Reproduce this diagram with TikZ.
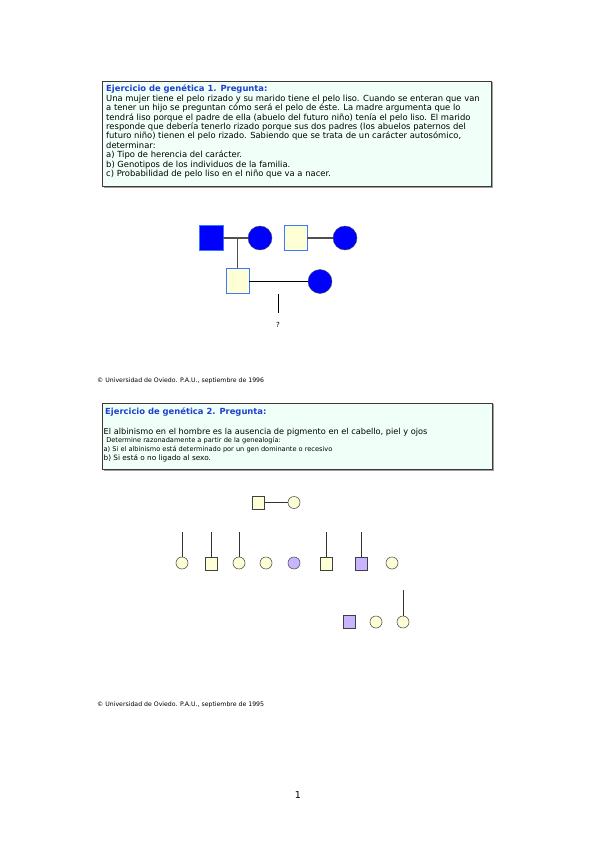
\documentclass[tikz,border=0pt]{standalone}
\usepackage{fontspec}
\setmainfont{DejaVu Sans}
\definecolor{boxfill}{HTML}{F0FFF8}
\definecolor{boxborder}{HTML}{3A3A3A}
\definecolor{boxshadow}{HTML}{A0A0A0}
\definecolor{titleblue}{HTML}{1E40D0}
\definecolor{affblue}{HTML}{0000FF}
\definecolor{lightyel}{HTML}{FFFFD6}
\definecolor{sqborder}{HTML}{3C78FF}
\definecolor{albino}{HTML}{C8B4FF}
\definecolor{pedline}{HTML}{505050}
\begin{document}
\begin{tikzpicture}[x=1pt,y=-1pt,
  txt/.style={anchor=base west,inner sep=0pt,font=\fontsize{8.4}{9.4}\selectfont},
  txtb/.style={anchor=base west,inner sep=0pt,font=\fontsize{8.2}{9.4}\selectfont},
  smalltxt/.style={anchor=base west,inner sep=0pt,font=\fontsize{6.6}{8}\selectfont},
  midtxt/.style={anchor=base west,inner sep=0pt,font=\fontsize{7.3}{8}\selectfont},
  ttl/.style={anchor=base west,inner sep=0pt,text=titleblue,font=\fontsize{8.4}{9.4}\selectfont\bfseries},
  foot/.style={anchor=base west,inner sep=0pt,font=\fontsize{6.2}{7}\selectfont},
  qbox/.style={draw=boxborder,line width=0.9pt,fill=boxfill},
  bsq/.style={rectangle,draw=sqborder,line width=0.7pt,fill=affblue,minimum width=24pt,minimum height=25pt,inner sep=0pt},
  ysq/.style={rectangle,draw=sqborder,line width=0.7pt,fill=lightyel,minimum width=23pt,minimum height=25pt,inner sep=0pt},
  bci/.style={circle,draw=black!70,line width=0.4pt,fill=affblue,minimum size=24pt,inner sep=0pt},
  pl/.style={draw=pedline,line width=1.2pt},
  sq/.style={rectangle,draw=black!75,line width=0.7pt,fill=lightyel,minimum width=11.5pt,minimum height=13pt,inner sep=0pt},
  psq/.style={sq,fill=albino},
  ci/.style={circle,draw=black!65,line width=0.6pt,fill=lightyel,minimum size=12pt,inner sep=0pt},
  pci/.style={ci,fill=albino},
  ql/.style={draw=black!80,line width=0.8pt}
]
\useasboundingbox[fill=white] (0,0) rectangle (599,848);

% ---------- Box 1 ----------
\draw[boxshadow,line width=1pt] (103.5,187.5) -- (492.5,187.5) -- (492.5,82);
\draw[qbox] (102,81) rectangle (491,186);
\node[ttl] (t1) at (106,92) {Ejercicio de genética 1. Pregunta:};
\node[txt] (t1a) at (106,101.4) {Una mujer tiene el pelo rizado y su marido tiene el pelo liso. Cuando se enteran que van};
\node[txt] (t1b) at (106,110.8) {a tener un hijo se preguntan cómo será el pelo de éste. La madre argumenta que lo};
\node[txt] (t1c) at (106,120.2) {tendrá liso porque el padre de ella (abuelo del futuro niño) tenía el pelo liso. El marido};
\node[txt] (t1d) at (106,129.6) {responde que debería tenerlo rizado porque sus dos padres (los abuelos paternos del};
\node[txt] (t1e) at (106,139.0) {futuro niño) tienen el pelo rizado. Sabiendo que se trata de un carácter autosómico,};
\node[txt] (t1f) at (106,148.4) {determinar:};
\node[txt] (t1g) at (106,157.8) {a) Tipo de herencia del carácter.};
\node[txt] (t1h) at (106,167.2) {b) Genotipos de los individuos de la familia.};
\node[txt] (t1i) at (106,176.6) {c) Probabilidad de pelo liso en el niño que va a nacer.};

% ---------- Pedigree 1 ----------
\node[bsq] (p1a) at (211,237.5) {};
\node[bci] (p1b) at (260,238) {};
\node[ysq] (p1c) at (295.5,238) {};
\node[bci] (p1d) at (345,238) {};
\node[ysq] (p1e) at (237.5,280.5) {};
\node[bci] (p1f) at (320,281.5) {};
\coordinate (m1) at (237.5,238);
\draw[pl] (p1a.east |- m1) -- (p1b.west |- m1);
\draw[pl] (m1) -- (p1e.north);
\draw[pl] (p1c.east |- p1d) -- (p1d.west);
\draw[draw=black,line width=1pt] (p1e.east |- p1f) -- (p1f.west);
\coordinate (k1) at (278,294);
\coordinate (k2) at (278,313);
\draw[draw=black,line width=1pt] (k1) -- (k2);
\node[inner sep=0pt,font=\fontsize{7}{8}\selectfont] (qm) at (278,325) {?};

\node[foot] (f1) at (97,382) {© Universidad de Oviedo. P.A.U., septiembre de 1996};

% ---------- Box 2 ----------
\draw[boxshadow,line width=1pt] (103.5,470.5) -- (493.5,470.5) -- (493.5,404);
\draw[qbox] (102,403) rectangle (492,469);
\node[ttl] (t2) at (105,414.5) {Ejercicio de genética 2. Pregunta:};
\node[txtb] (t2a) at (103.5,434) {El albinismo en el hombre es la ausencia de pigmento en el cabello, piel y ojos};
\node[smalltxt] (t2b) at (104,442.8) {\ Determine razonadamente a partir de la genealogía:};
\node[smalltxt] (t2c) at (103.5,451.3) {a) Si el albinismo está determinado por un gen dominante o recesivo};
\node[midtxt] (t2d) at (103.5,460.3) {b) Si está o no ligado al sexo.};

% ---------- Pedigree 2 ----------
\node[sq] (s0) at (258.5,502.5) {};
\node[ci] (c0) at (294,502.5) {};
\draw[ql] (s0.east) -- (c0.west);

\node[ci] (c1) at (182,563) {};
\node[sq] (s2) at (211.5,563.5) {};
\node[ci] (c3) at (239,563) {};
\node[ci] (c4) at (266,563) {};
\node[pci] (c5) at (294,563) {};
\node[sq] (s6) at (326.5,563.5) {};
\node[psq] (s7) at (361.5,563.5) {};
\node[ci] (c8) at (392,563) {};
\draw[ql] (c1.north) -- ++(0,-25);
\draw[ql] (s2.north) -- ++(0,-25);
\draw[ql] (c3.north) -- ++(0,-25);
\draw[ql] (s6.north) -- ++(0,-25);
\draw[ql] (s7.north) -- ++(0,-25);

\node[psq] (s9) at (349.5,622) {};
\node[ci] (c10) at (376,622) {};
\node[ci] (c11) at (403,622) {};
\draw[ql] (c11.north) -- ++(0,-26);

\node[foot] (f2) at (97,706) {© Universidad de Oviedo. P.A.U., septiembre de 1995};

\node[inner sep=0pt,font=\fontsize{9.5}{11}\selectfont] (pg) at (298,795) {1};
\end{tikzpicture}
\end{document}
